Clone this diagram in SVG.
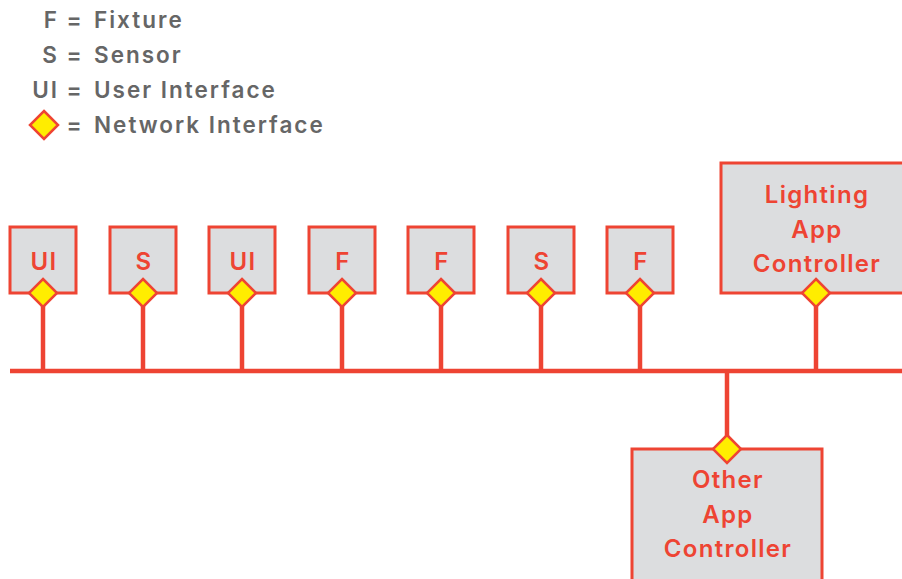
<svg xmlns="http://www.w3.org/2000/svg" width="902" height="579" viewBox="0 0 902 579">
<defs>
<style>
.box{fill:#DCDDDF;stroke:#EE4433;stroke-width:3}
.ni{fill:#FFED00;stroke:#EE4433;stroke-width:2.5}
.lbl{font-family:Inter,"Noto Sans",sans-serif;font-weight:600;font-size:24px;letter-spacing:1.3px;fill:#EE4433;text-anchor:middle}
.leg{font-family:Inter,"Noto Sans",sans-serif;font-weight:600;font-size:22.5px;letter-spacing:2px;fill:#666666}
.wire{stroke:#EE4433;stroke-width:4.5;fill:none}
</style>
<polygon id="dia" points="0,-14 14,0 0,14 -14,0"/>
</defs>
<rect width="902" height="579" fill="#ffffff"/>
<g id="legend">
<text class="leg" x="59" y="28" text-anchor="end">F</text>
<text class="leg" x="75" y="28" text-anchor="middle">=</text>
<text class="leg" x="94" y="28">Fixture</text>
<text class="leg" x="59" y="63" text-anchor="end">S</text>
<text class="leg" x="75" y="63" text-anchor="middle">=</text>
<text class="leg" x="94" y="63">Sensor</text>
<text class="leg" x="59" y="98" text-anchor="end">UI</text>
<text class="leg" x="75" y="98" text-anchor="middle">=</text>
<text class="leg" x="94" y="98">User Interface</text>
<use href="#dia" class="ni" x="44" y="125"/>
<text class="leg" x="75" y="133" text-anchor="middle">=</text>
<text class="leg" x="94" y="133">Network Interface</text>
</g>
<g id="connectors">
<line class="wire" x1="10" y1="371" x2="902" y2="371"/>
<line class="wire" x1="43" y1="293" x2="43" y2="371"/>
<line class="wire" x1="143" y1="293" x2="143" y2="371"/>
<line class="wire" x1="242" y1="293" x2="242" y2="371"/>
<line class="wire" x1="342" y1="293" x2="342" y2="371"/>
<line class="wire" x1="441" y1="293" x2="441" y2="371"/>
<line class="wire" x1="541" y1="293" x2="541" y2="371"/>
<line class="wire" x1="640" y1="293" x2="640" y2="371"/>
<line class="wire" x1="816" y1="293" x2="816" y2="371"/>
<line class="wire" x1="727" y1="371" x2="727" y2="449"/>
</g>
<g id="n1"><rect class="box" x="10" y="227" width="66" height="66"/><text class="lbl" x="44" y="270">UI</text><use href="#dia" class="ni" x="43" y="293"/></g>
<g id="n2"><rect class="box" x="110" y="227" width="66" height="66"/><text class="lbl" x="144" y="270">S</text><use href="#dia" class="ni" x="143" y="293"/></g>
<g id="n3"><rect class="box" x="209" y="227" width="66" height="66"/><text class="lbl" x="243" y="270">UI</text><use href="#dia" class="ni" x="242" y="293"/></g>
<g id="n4"><rect class="box" x="309" y="227" width="66" height="66"/><text class="lbl" x="343" y="270">F</text><use href="#dia" class="ni" x="342" y="293"/></g>
<g id="n5"><rect class="box" x="408" y="227" width="66" height="66"/><text class="lbl" x="442" y="270">F</text><use href="#dia" class="ni" x="441" y="293"/></g>
<g id="n6"><rect class="box" x="508" y="227" width="66" height="66"/><text class="lbl" x="542" y="270">S</text><use href="#dia" class="ni" x="541" y="293"/></g>
<g id="n7"><rect class="box" x="607" y="227" width="66" height="66"/><text class="lbl" x="641" y="270">F</text><use href="#dia" class="ni" x="640" y="293"/></g>
<g id="lighting"><rect class="box" x="721" y="163" width="183" height="130"/><text class="lbl" x="817" y="203">Lighting</text><text class="lbl" x="817" y="238">App</text><text class="lbl" x="817" y="272">Controller</text><use href="#dia" class="ni" x="816" y="293"/></g>
<g id="other"><rect class="box" x="632" y="449" width="190" height="132"/><text class="lbl" x="728" y="488">Other</text><text class="lbl" x="728" y="523">App</text><text class="lbl" x="728" y="557">Controller</text><use href="#dia" class="ni" x="727" y="449"/></g>
</svg>
